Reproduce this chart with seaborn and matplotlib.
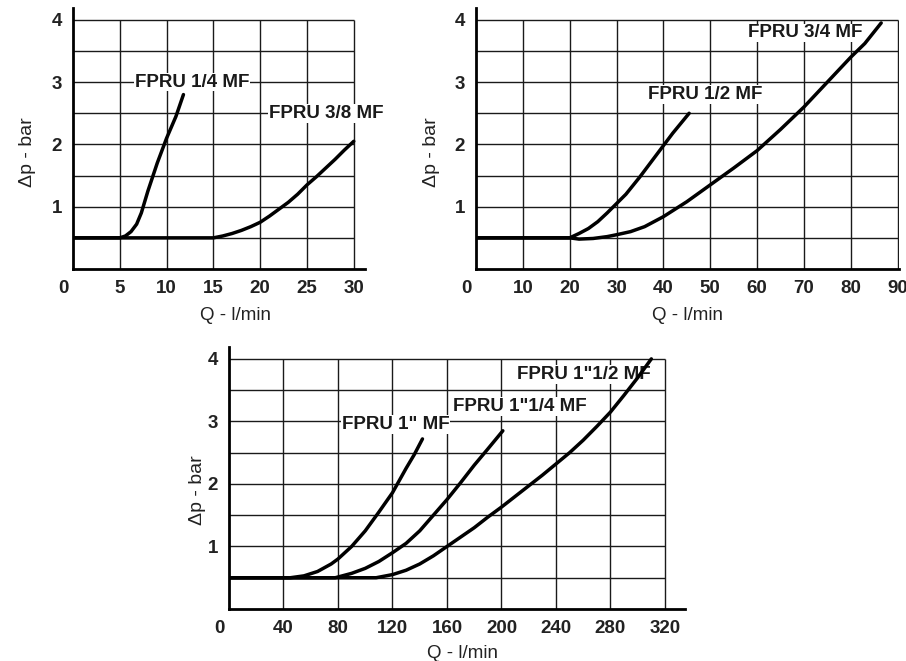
import matplotlib
matplotlib.use("Agg")
import pandas as pd
import seaborn as sns
import matplotlib.pyplot as plt
from matplotlib import transforms

# panel 1
q_14 = [0, 5, 5.6, 6.2, 6.8, 7.3, 8.0, 9.0, 10.0, 11.0, 11.8]
dp_14 = [0.5, 0.5, 0.53, 0.6, 0.72, 0.9, 1.25, 1.7, 2.1, 2.45, 2.8]
q_38 = [0, 15, 16, 17, 18, 19, 20, 21, 22, 23, 24, 25, 26, 27, 28, 29, 30]
dp_38 = [0.5, 0.5, 0.53, 0.57, 0.62, 0.68, 0.75, 0.85, 0.96, 1.07, 1.2, 1.35, 1.48, 1.62, 1.76, 1.91, 2.05]

# panel 2
q_12 = [0, 20, 22, 24, 26, 28, 30, 32, 35, 38, 40, 42, 45.5]
dp_12 = [0.5, 0.5, 0.57, 0.65, 0.76, 0.9, 1.05, 1.2, 1.48, 1.78, 1.98, 2.18, 2.5]
q_34 = [0, 20, 22, 25, 28, 30, 33, 36, 40, 45, 50, 55, 60, 65, 70, 75, 80, 83, 86.5]
dp_34 = [0.5, 0.5, 0.48, 0.49, 0.52, 0.55, 0.6, 0.68, 0.84, 1.08, 1.35, 1.62, 1.9, 2.24, 2.6, 3.0, 3.4, 3.62, 3.95]

# panel 3
q_1 = [0, 45, 55, 65, 75, 80, 90, 100, 110, 120, 130, 136, 142]
dp_1 = [0.5, 0.5, 0.53, 0.6, 0.72, 0.8, 1.0, 1.25, 1.55, 1.86, 2.25, 2.47, 2.72]
q_114 = [0, 78, 90, 100, 110, 120, 130, 140, 150, 160, 170, 180, 190, 201]
dp_114 = [0.5, 0.5, 0.57, 0.65, 0.76, 0.9, 1.05, 1.25, 1.5, 1.75, 2.02, 2.3, 2.56, 2.85]
q_112 = [0, 108, 120, 130, 140, 150, 160, 170, 180, 190, 200, 210, 220, 230, 240, 250, 260, 270, 280, 290, 300, 310]
dp_112 = [0.5, 0.5, 0.55, 0.62, 0.72, 0.85, 1.0, 1.15, 1.3, 1.47, 1.63, 1.8, 1.97, 2.14, 2.32, 2.5, 2.7, 2.92, 3.15, 3.42, 3.7, 4.0]

y_grid = [0.5, 1, 1.5, 2, 2.5, 3, 3.5, 4]
y_ticks = [1, 2, 3, 4]

sns.set_style("white")
plt.rcParams["font.family"] = ["Liberation Sans", "DejaVu Sans"]

fig = plt.figure(figsize=(9.06, 6.61), dpi=100)


def panel(rect, series, xmax, xstep, xlim, labels, xlab_pos, ylab_pos):
    ax = fig.add_axes(rect)
    frames = []
    for name, (q, dp) in series.items():
        frames.append(pd.DataFrame({"Q": q, "dp": dp, "series": name}))
    df = pd.concat(frames, ignore_index=True)
    xt = list(range(0, xmax + 1, xstep))
    ax.vlines(xt[1:], 0, 4, color="#1a1a1a", lw=1.0, zorder=1)
    ax.hlines(y_grid, 0, xmax, color="#1a1a1a", lw=1.0, zorder=1)
    sns.lineplot(data=df, x="Q", y="dp", hue="series", sort=False,
                 palette=["black"] * len(series), lw=2.5, legend=False,
                 ax=ax, zorder=3)
    for txt, (lx, ly) in labels.items():
        ax.text(lx, ly, txt, fontsize=13.5, fontweight="bold", va="center",
                ha="left", color="#1a1a1a", zorder=2, clip_on=False,
                bbox=dict(facecolor="white", edgecolor="none", pad=0.5))
    ax.set_xlim(0, xlim)
    ax.set_ylim(0, 4.19)
    ax.set_xticks(xt)
    ax.set_xticklabels([str(v) for v in xt], fontsize=13.5, fontweight="bold",
                       color="#222222")
    ax.set_yticks(y_ticks)
    ax.set_yticklabels([str(v) for v in y_ticks], fontsize=13.5,
                       fontweight="bold", color="#222222")
    ax.tick_params(length=0, pad=8)
    off = transforms.ScaledTranslation(-0.10, 0, fig.dpi_scale_trans)
    lab0 = ax.get_xticklabels()[0]
    lab0.set_transform(lab0.get_transform() + off)
    for s in ["top", "right"]:
        ax.spines[s].set_visible(False)
    for s in ["left", "bottom"]:
        ax.spines[s].set_linewidth(2.0)
        ax.spines[s].set_color("black")
    ax.set_xlabel("Q - l/min", fontsize=13.5, color="#222222")
    ax.set_ylabel("Δp - bar", fontsize=14, color="#222222")
    ax.xaxis.set_label_coords(*xlab_pos)
    ax.yaxis.set_label_coords(*ylab_pos)
    return ax


panel([73 / 906, 1 - 269 / 661, 292 / 906, 261 / 661],
      {"FPRU 1/4 MF": (q_14, dp_14), "FPRU 3/8 MF": (q_38, dp_38)},
      30, 5, 31.2,
      {"FPRU 1/4 MF": (6.6, 3.0), "FPRU 3/8 MF": (20.9, 2.5)},
      (0.558, -0.146), (-0.126, 0.448))

panel([476 / 906, 1 - 269 / 661, 423 / 906, 261 / 661],
      {"FPRU 1/2 MF": (q_12, dp_12), "FPRU 3/4 MF": (q_34, dp_34)},
      90, 10, 90.3,
      {"FPRU 1/2 MF": (36.7, 2.8), "FPRU 3/4 MF": (58.0, 3.79)},
      (0.501, -0.146), (-0.085, 0.448))

panel([229 / 906, 1 - 609 / 661, 456 / 906, 262 / 661],
      {'FPRU 1" MF': (q_1, dp_1), 'FPRU 1"1/4 MF': (q_114, dp_114),
       'FPRU 1"1/2 MF': (q_112, dp_112)},
      320, 40, 334.7,
      {'FPRU 1" MF': (83.0, 2.95), 'FPRU 1"1/4 MF': (164.2, 3.24),
       'FPRU 1"1/2 MF': (211.5, 3.75)},
      (0.511, -0.137), (-0.050, 0.454))

fig.savefig("out.png", dpi=100)
